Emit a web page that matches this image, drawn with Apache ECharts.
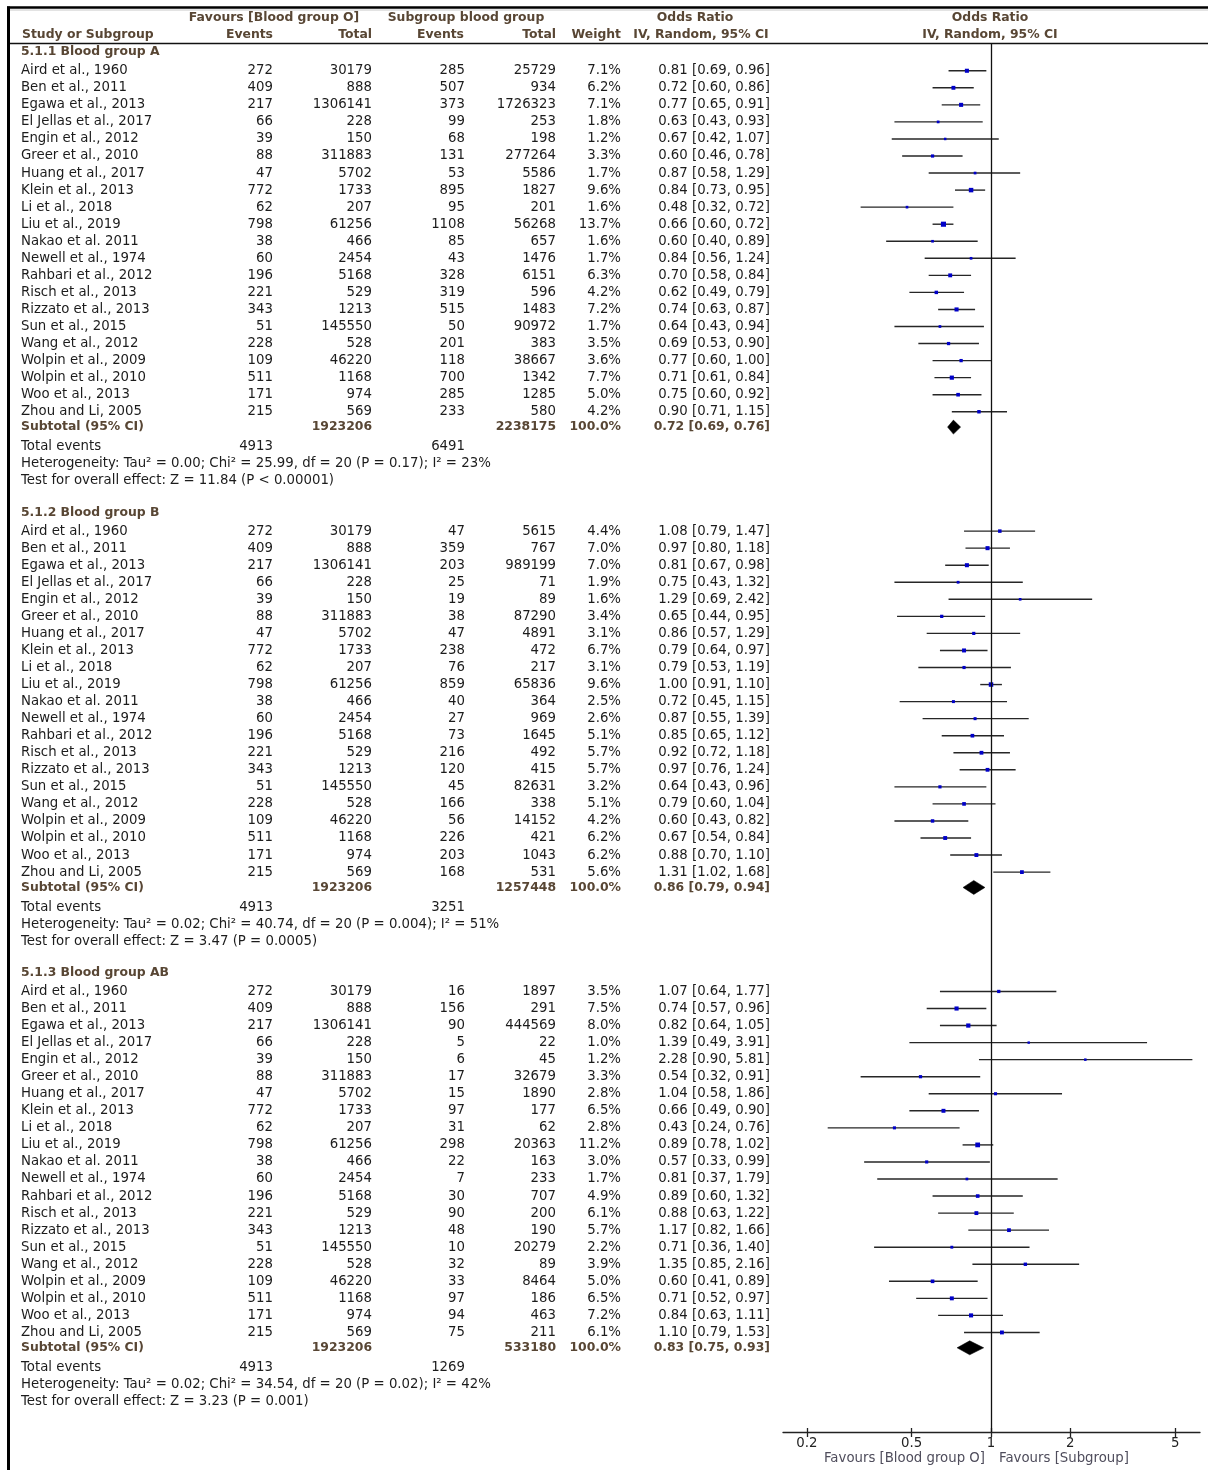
<!DOCTYPE html>
<html>
<head>
<meta charset="utf-8">
<title>Forest plot - blood group</title>
<script src="https://cdn.jsdelivr.net/npm/echarts@6/dist/echarts.min.js"></script>
<style>
html, body { margin: 0; padding: 0; background: #fff; }
#chart { width: 1208px; height: 1470px; }
</style>
</head>
<body>
<div id="chart"></div>
<script>
// ---- data ----
var studies = ['Aird et al., 1960', 'Ben et al., 2011', 'Egawa et al., 2013', 'El Jellas et al., 2017',
  'Engin et al., 2012', 'Greer et al., 2010', 'Huang et al., 2017', 'Klein et al., 2013', 'Li et al., 2018',
  'Liu et al., 2019', 'Nakao et al. 2011', 'Newell et al., 1974', 'Rahbari et al., 2012', 'Risch et al., 2013',
  'Rizzato et al., 2013', 'Sun et al., 2015', 'Wang et al., 2012', 'Wolpin et al., 2009', 'Wolpin et al., 2010',
  'Woo et al., 2013', 'Zhou and Li, 2005'];
var oEvents = [272, 409, 217, 66, 39, 88, 47, 772, 62, 798, 38, 60, 196, 221, 343, 51, 228, 109, 511, 171, 215];
var oTotal = [30179, 888, 1306141, 228, 150, 311883, 5702, 1733, 207, 61256, 466, 2454, 5168, 529, 1213, 145550, 528, 46220, 1168, 974, 569];

var groupNames = ['5.1.1 Blood group A', '5.1.2 Blood group B', '5.1.3 Blood group AB'];

var subEventsA = [285, 507, 373, 99, 68, 131, 53, 895, 95, 1108, 85, 43, 328, 319, 515, 50, 201, 118, 700, 285, 233];
var subTotalA = [25729, 934, 1726323, 253, 198, 277264, 5586, 1827, 201, 56268, 657, 1476, 6151, 596, 1483, 90972, 383, 38667, 1342, 1285, 580];
var weightA = [7.1, 6.2, 7.1, 1.8, 1.2, 3.3, 1.7, 9.6, 1.6, 13.7, 1.6, 1.7, 6.3, 4.2, 7.2, 1.7, 3.5, 3.6, 7.7, 5.0, 4.2];
var orA = [0.81, 0.72, 0.77, 0.63, 0.67, 0.60, 0.87, 0.84, 0.48, 0.66, 0.60, 0.84, 0.70, 0.62, 0.74, 0.64, 0.69, 0.77, 0.71, 0.75, 0.90];
var loA = [0.69, 0.60, 0.65, 0.43, 0.42, 0.46, 0.58, 0.73, 0.32, 0.60, 0.40, 0.56, 0.58, 0.49, 0.63, 0.43, 0.53, 0.60, 0.61, 0.60, 0.71];
var hiA = [0.96, 0.86, 0.91, 0.93, 1.07, 0.78, 1.29, 0.95, 0.72, 0.72, 0.89, 1.24, 0.84, 0.79, 0.87, 0.94, 0.90, 1.00, 0.84, 0.92, 1.15];

var subEventsB = [47, 359, 203, 25, 19, 38, 47, 238, 76, 859, 40, 27, 73, 216, 120, 45, 166, 56, 226, 203, 168];
var subTotalB = [5615, 767, 989199, 71, 89, 87290, 4891, 472, 217, 65836, 364, 969, 1645, 492, 415, 82631, 338, 14152, 421, 1043, 531];
var weightB = [4.4, 7.0, 7.0, 1.9, 1.6, 3.4, 3.1, 6.7, 3.1, 9.6, 2.5, 2.6, 5.1, 5.7, 5.7, 3.2, 5.1, 4.2, 6.2, 6.2, 5.6];
var orB = [1.08, 0.97, 0.81, 0.75, 1.29, 0.65, 0.86, 0.79, 0.79, 1.00, 0.72, 0.87, 0.85, 0.92, 0.97, 0.64, 0.79, 0.60, 0.67, 0.88, 1.31];
var loB = [0.79, 0.80, 0.67, 0.43, 0.69, 0.44, 0.57, 0.64, 0.53, 0.91, 0.45, 0.55, 0.65, 0.72, 0.76, 0.43, 0.60, 0.43, 0.54, 0.70, 1.02];
var hiB = [1.47, 1.18, 0.98, 1.32, 2.42, 0.95, 1.29, 0.97, 1.19, 1.10, 1.15, 1.39, 1.12, 1.18, 1.24, 0.96, 1.04, 0.82, 0.84, 1.10, 1.68];

var subEventsAB = [16, 156, 90, 5, 6, 17, 15, 97, 31, 298, 22, 7, 30, 90, 48, 10, 32, 33, 97, 94, 75];
var subTotalAB = [1897, 291, 444569, 22, 45, 32679, 1890, 177, 62, 20363, 163, 233, 707, 200, 190, 20279, 89, 8464, 186, 463, 211];
var weightAB = [3.5, 7.5, 8.0, 1.0, 1.2, 3.3, 2.8, 6.5, 2.8, 11.2, 3.0, 1.7, 4.9, 6.1, 5.7, 2.2, 3.9, 5.0, 6.5, 7.2, 6.1];
var orAB = [1.07, 0.74, 0.82, 1.39, 2.28, 0.54, 1.04, 0.66, 0.43, 0.89, 0.57, 0.81, 0.89, 0.88, 1.17, 0.71, 1.35, 0.60, 0.71, 0.84, 1.10];
var loAB = [0.64, 0.57, 0.64, 0.49, 0.90, 0.32, 0.58, 0.49, 0.24, 0.78, 0.33, 0.37, 0.60, 0.63, 0.82, 0.36, 0.85, 0.41, 0.52, 0.63, 0.79];
var hiAB = [1.77, 0.96, 1.05, 3.91, 5.81, 0.91, 1.86, 0.90, 0.76, 1.02, 0.99, 1.79, 1.32, 1.22, 1.66, 1.40, 2.16, 0.89, 0.97, 1.11, 1.53];

var subtotalO = [1923206, 1923206, 1923206];
var subtotalSub = [2238175, 1257448, 533180];
var subtotalOr = [0.72, 0.86, 0.83];
var subtotalLo = [0.69, 0.79, 0.75];
var subtotalHi = [0.76, 0.94, 0.93];
var totalEventsO = [4913, 4913, 4913];
var totalEventsSub = [6491, 3251, 1269];
var heterogeneity = [
  'Heterogeneity: Tau\u00b2 = 0.00; Chi\u00b2 = 25.99, df = 20 (P = 0.17); I\u00b2 = 23%',
  'Heterogeneity: Tau\u00b2 = 0.02; Chi\u00b2 = 40.74, df = 20 (P = 0.004); I\u00b2 = 51%',
  'Heterogeneity: Tau\u00b2 = 0.02; Chi\u00b2 = 34.54, df = 20 (P = 0.02); I\u00b2 = 42%'
];
var overallEffect = [
  'Test for overall effect: Z = 11.84 (P < 0.00001)',
  'Test for overall effect: Z = 3.47 (P = 0.0005)',
  'Test for overall effect: Z = 3.23 (P = 0.001)'
];
var xTicks = [0.2, 0.5, 1, 2, 5];

// ---- layout ----
var ROW = 17.05;      // px per row
var ROW0 = 52;        // px of row 0
var W = 1208, H = 1470;
var FAMILY = '"DejaVu Sans", "Liberation Sans", Arial, sans-serif';
var FONT = '13.3px ' + FAMILY;
var BOLD = 'bold 12.4px ' + FAMILY;
var TXT = '#1c1c1c';
var BROWN = '#584634';
var col = { name: 21, oEv: 273, oTot: 372, sEv: 465, sTot: 556, wt: 621, ci: 770 };

var groups = [
  { ev: subEventsA, tot: subTotalA, w: weightA, or: orA, lo: loA, hi: hiA },
  { ev: subEventsB, tot: subTotalB, w: weightB, or: orB, lo: loB, hi: hiB },
  { ev: subEventsAB, tot: subTotalAB, w: weightAB, or: orAB, lo: loAB, hi: hiAB }
];

function ciText(o, l, h) {
  return o.toFixed(2) + ' [' + l.toFixed(2) + ', ' + h.toFixed(2) + ']';
}

var cells = [];
var marks = [];
function cell(x, row, text, align, bold, color) {
  cells.push({ x: x, row: row, text: String(text), align: align || 'right', bold: !!bold, color: color || TXT });
}

// header
cell(274, -2, 'Favours [Blood group O]', 'center', true, BROWN);
cell(466, -2, 'Subgroup blood group', 'center', true, BROWN);
cell(695, -2, 'Odds Ratio', 'center', true, BROWN);
cell(990, -2, 'Odds Ratio', 'center', true, BROWN);
cell(22, -1, 'Study or Subgroup', 'left', true, BROWN);
cell(col.oEv, -1, 'Events', 'right', true, BROWN);
cell(col.oTot, -1, 'Total', 'right', true, BROWN);
cell(col.sEv - 1, -1, 'Events', 'right', true, BROWN);
cell(col.sTot, -1, 'Total', 'right', true, BROWN);
cell(col.wt, -1, 'Weight', 'right', true, BROWN);
cell(701, -1, 'IV, Random, 95% CI', 'center', true, BROWN);
cell(990, -1, 'IV, Random, 95% CI', 'center', true, BROWN);

groups.forEach(function (g, gi) {
  var base = gi * 27;
  cell(col.name, base, groupNames[gi], 'left', true, BROWN);
  studies.forEach(function (s, i) {
    var r = base + 1.1 + i;
    cell(col.name, r, s, 'left');
    cell(col.oEv, r, oEvents[i]);
    cell(col.oTot, r, oTotal[i]);
    cell(col.sEv, r, g.ev[i]);
    cell(col.sTot, r, g.tot[i]);
    cell(col.wt, r, g.w[i].toFixed(1) + '%');
    cell(col.ci, r, ciText(g.or[i], g.lo[i], g.hi[i]));
    marks.push([g.or[i], r, g.lo[i], g.hi[i], g.w[i], 0]);
  });
  var sr = base + 22;
  cell(col.name, sr, 'Subtotal (95% CI)', 'left', true, BROWN);
  cell(col.oTot, sr, subtotalO[gi], 'right', true, BROWN);
  cell(col.sTot, sr, subtotalSub[gi], 'right', true, BROWN);
  cell(col.wt, sr, '100.0%', 'right', true, BROWN);
  cell(col.ci, sr, ciText(subtotalOr[gi], subtotalLo[gi], subtotalHi[gi]), 'right', true, BROWN);
  marks.push([subtotalOr[gi], sr, subtotalLo[gi], subtotalHi[gi], 100, 1]);
  cell(col.name, base + 23.15, 'Total events', 'left');
  cell(col.oEv, base + 23.15, totalEventsO[gi]);
  cell(col.sEv, base + 23.15, totalEventsSub[gi]);
  cell(col.name, base + 24.15, heterogeneity[gi], 'left');
  cell(col.name, base + 25.15, overallEffect[gi], 'left');
});

// footer under axis
var footRow = (1459 - ROW0) / ROW;
cell(985, footRow, 'Favours [Blood group O]', 'right', false, '#4f4d5c');
cell(999, footRow, 'Favours [Subgroup]', 'left', false, '#4f4d5c');

// forest grid pixel frame
var fTop = 43, fBottom = 1432, fLeft = 783, fRight = 1200;
var xMin = 0.1624, xMax = 6.21;

var chart = echarts.init(document.getElementById('chart'), null, { renderer: 'canvas' });

var option = {
  backgroundColor: '#fff',
  animation: false,
  grid: [
    { left: 0, right: 0, top: 0, bottom: 0 },
    { left: fLeft, right: W - fRight, top: fTop, bottom: H - fBottom }
  ],
  xAxis: [
    { gridIndex: 0, type: 'value', min: 0, max: W, show: false },
    {
      gridIndex: 1, type: 'log', logBase: 10, min: xMin, max: xMax, position: 'bottom',
      axisLine: { show: true, onZero: false, lineStyle: { color: '#222', width: 1.3 } },
      axisTick: { show: true, customValues: xTicks, length: 5, inside: false, lineStyle: { color: '#222', width: 1.3 } },
      axisLabel: {
        show: true, customValues: xTicks, margin: 5, color: '#222', fontSize: 13.3,
        fontFamily: FAMILY,
        formatter: function (v) { return String(parseFloat(Number(v).toPrecision(3))); }
      },
      splitLine: { show: false },
      minorTick: { show: false }
    },
    {
      // upper half of the crossing ticks
      gridIndex: 1, type: 'log', logBase: 10, min: xMin, max: xMax, position: 'bottom',
      axisLine: { show: false, onZero: false },
      axisTick: { show: true, customValues: xTicks, length: 4, inside: true, lineStyle: { color: '#222', width: 1.3 } },
      axisLabel: { show: false },
      splitLine: { show: false },
      minorTick: { show: false }
    }
  ],
  yAxis: [
    { gridIndex: 0, type: 'value', inverse: true, min: -ROW0 / ROW, max: (H - ROW0) / ROW, show: false },
    { gridIndex: 1, type: 'value', inverse: true, min: (fTop - ROW0) / ROW, max: (fBottom - ROW0) / ROW, show: false }
  ],
  graphic: [
    { type: 'line', shape: { x1: 7, y1: 7.5, x2: W, y2: 7.5 }, style: { stroke: '#000', lineWidth: 2.5 } },
    { type: 'line', shape: { x1: 10, y1: 10, x2: W, y2: 10 }, style: { stroke: '#c8c8c8', lineWidth: 1 } },
    { type: 'line', shape: { x1: 8.5, y1: 6.5, x2: 8.5, y2: H }, style: { stroke: '#000', lineWidth: 3 } },
    { type: 'line', shape: { x1: 10, y1: 43.5, x2: W, y2: 43.5 }, style: { stroke: '#111', lineWidth: 1.4 } }
  ],
  series: [
    {
      type: 'custom',
      xAxisIndex: 0, yAxisIndex: 0,
      clip: false,
      silent: true,
      data: cells.map(function (c) { return [c.x, c.row]; }),
      encode: { x: 0, y: 1 },
      renderItem: function (params, api) {
        var c = cells[params.dataIndex];
        var p = api.coord([api.value(0), api.value(1)]);
        return {
          type: 'text',
          x: p[0], y: p[1],
          style: {
            text: c.text,
            font: c.bold ? BOLD : FONT,
            fill: c.color,
            align: c.align,
            verticalAlign: 'middle'
          }
        };
      }
    },
    {
      type: 'custom',
      xAxisIndex: 1, yAxisIndex: 1,
      clip: false,
      silent: true,
      data: marks,
      encode: { x: 0, y: 1 },
      renderItem: function (params, api) {
        var row = api.value(1);
        var c = api.coord([api.value(0), row]);
        var l = api.coord([api.value(2), row]);
        var h = api.coord([api.value(3), row]);
        if (api.value(5) === 1) {
          var hh = 7;
          return {
            type: 'polygon',
            shape: { points: [[l[0] - 1, c[1]], [c[0], c[1] - hh], [h[0] + 1, c[1]], [c[0], c[1] + hh]] },
            style: { fill: '#000', stroke: '#000', lineWidth: 0.5 }
          };
        }
        var s = 1.4 + Math.sqrt(api.value(4)) * 1.0;
        return {
          type: 'group',
          children: [
            { type: 'line', shape: { x1: l[0], y1: c[1], x2: h[0], y2: c[1] }, style: { stroke: '#262626', lineWidth: 1.4 } },
            { type: 'rect', shape: { x: c[0] - s / 2, y: c[1] - s / 2, width: s, height: s }, style: { fill: '#0000c8' } }
          ]
        };
      },
      markLine: {
        silent: true,
        symbol: 'none',
        label: { show: false },
        lineStyle: { color: '#111', width: 1.3, type: 'solid' },
        data: [{ xAxis: 1 }]
      }
    }
  ]
};

chart.setOption(option);
</script>
</body>
</html>
